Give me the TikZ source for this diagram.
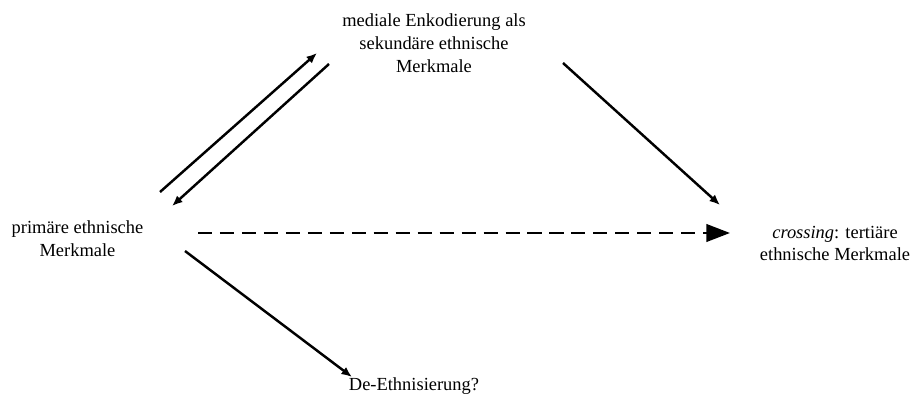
\documentclass[tikz,border=0pt]{standalone}
\usepackage{fontspec}
\setmainfont{Liberation Serif}
\usetikzlibrary{arrows.meta}

\begin{document}
\begin{tikzpicture}[
        every node/.style={align=center, font=\fontsize{10.5}{13}\selectfont},
        pfeil/.style={line width=1.4pt, -{Latex[length=6pt,width=5pt]}}
    ]
        \useasboundingbox (0,0) rectangle (18.24,-8);

        \coordinate (A) at (3.2,-3.84);
        \coordinate (B) at (6.34,-1.06);
        \coordinate (C) at (6.58,-1.28);
        \coordinate (D) at (3.44,-4.12);
        \coordinate (E) at (11.26,-1.26);
        \coordinate (F) at (14.4,-4.1);
        \coordinate (G) at (3.7,-5.02);
        \coordinate (H) at (7.04,-7.54);
        \coordinate (I) at (3.96,-4.66);
        \coordinate (J) at (14.6,-4.66);

        \node (medial) at (8.68,-0.86) {mediale Enkodierung als\\sekundäre ethnische\\Merkmale};
        \node (primaer) at (1.55,-4.78) {primäre ethnische\\Merkmale};
        \node (tertiaer) at (16.7,-4.87) {\textit{crossing}: tertiäre\\ethnische Merkmale};
        \node (deethn) at (8.28,-7.72) {De-Ethnisierung?};

        \draw[pfeil] (A) -- (B);
        \draw[pfeil] (C) -- (D);
        \draw[pfeil] (E) -- (F);
        \draw[pfeil] (G) -- (H);
        \draw[line width=1.4pt, dash pattern=on 8pt off 4.5pt, -{Triangle[length=13.5pt,width=10pt]}] (I) -- (J);

    \end{tikzpicture}
\end{document}
